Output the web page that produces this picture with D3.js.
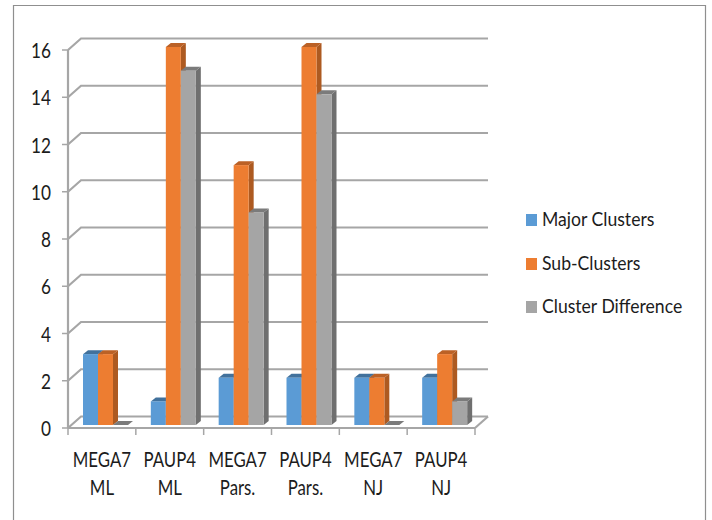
<!DOCTYPE html>
<html>
<head>
<meta charset="utf-8">
<script src="https://cdn.jsdelivr.net/npm/d3@7"></script>
<style>
html, body { margin: 0; padding: 0; background: #fff; }
svg { display: block; }
text { font-family: Lato, "Open Sans", sans-serif; fill: #1c1c1c; }
</style>
</head>
<body>
<svg id="chart" width="712" height="520"></svg>
<script>
const categories = [["MEGA7", "ML"], ["PAUP4", "ML"], ["MEGA7", "Pars."], ["PAUP4", "Pars."], ["MEGA7", "NJ"], ["PAUP4", "NJ"]];
const seriesNames = ["Major Clusters", "Sub-Clusters", "Cluster Difference"];
const majorClusters = [3, 1, 2, 2, 2, 2];
const subClusters = [3, 16, 11, 16, 2, 3];
const clusterDifference = [0, 15, 9, 14, 0, 1];
const yTicks = [0, 2, 4, 6, 8, 10, 12, 14, 16];

const seriesValues = [majorClusters, subClusters, clusterDifference];
const faceColors = [
  { front: "#5b9bd5", side: "#41719c", top: "#41719c" },
  { front: "#ed7d31", side: "#ad5a21", top: "#bb6126" },
  { front: "#a5a5a5", side: "#6f6f6f", top: "#7b7b7b" }
];

const svg = d3.select("#chart");
const x = d3.scaleBand().domain(d3.range(categories.length)).range([68, 475]);
const y = d3.scaleLinear().domain([0, 16]).range([428, 50]);

// Depth of the chart box and of each bar, in screen pixels
const wallDx = 13, wallDy = -11.5;
const barDx = 5, barDy = -4;
const barInset = 15, barWidth = 15, barFloorLift = 3;
const wallRight = x.range()[1] + wallDx;

const poly = pts => pts.map(p => p.join(",")).join(" ");

// Condensed text: Lato squeezed horizontally around its anchor point
const squeezed = (sel, px, py, sx) => sel.attr("transform", `translate(${px},${py}) scale(${sx},1)`);

// Outer frame of the chart area: open along the bottom edge
svg.append("polyline").attr("points", poly([[13.5, 520], [13.5, 5.5], [705.5, 5.5], [705.5, 520]]))
  .attr("fill", "none").attr("stroke", "#8f8f8f").attr("stroke-width", 1.2);

// Back wall gridlines with their diagonal returns to the value axis
const grid = svg.append("g").attr("fill", "none").attr("stroke", "#a6a6a6").attr("stroke-width", 2.2);
yTicks.forEach(t => {
  grid.append("polyline").attr("points", poly([
    [x.range()[0], y(t)], [x.range()[0] + wallDx, y(t) + wallDy], [wallRight, y(t) + wallDy]
  ]));
});

// Floor edge on the right and the two front axes
grid.append("polyline").attr("points", poly([[wallRight, y(0) + wallDy], [x.range()[1], y(0)]]));
grid.append("line").attr("x1", x.range()[0]).attr("x2", x.range()[1]).attr("y1", y(0)).attr("y2", y(0));
grid.append("line").attr("x1", x.range()[0]).attr("x2", x.range()[0]).attr("y1", y(0)).attr("y2", y(16));

// Tick marks
const tickG = svg.append("g").attr("stroke", "#a6a6a6").attr("stroke-width", 1.5);
yTicks.forEach(t => {
  tickG.append("line").attr("x1", x.range()[0] - 6).attr("x2", x.range()[0]).attr("y1", y(t)).attr("y2", y(t));
});
d3.range(categories.length + 1).forEach(i => {
  const px = x.range()[0] + i * x.bandwidth();
  tickG.append("line").attr("x1", px).attr("x2", px).attr("y1", y(0)).attr("y2", y(0) + 7);
});

// Bars as three visible faces: side, top, front
const bars = svg.append("g");
categories.forEach((c, i) => {
  seriesValues.forEach((vals, s) => {
    const v = vals[i];
    const x0 = x(i) + barInset + s * barWidth;
    const x1 = x0 + barWidth;
    const yb = y(0) - barFloorLift;
    const yt = y(v) - barFloorLift;
    const col = faceColors[s];
    bars.append("polygon").attr("fill", col.side).attr("points", poly([
      [x1, yt], [x1 + barDx, yt + barDy], [x1 + barDx, yb + barDy], [x1, yb]
    ]));
    bars.append("polygon").attr("fill", col.top).attr("points", poly([
      [x0, yt], [x0 + barDx, yt + barDy], [x1 + barDx, yt + barDy], [x1, yt]
    ]));
    if (v > 0) {
      bars.append("rect").attr("x", x0).attr("y", yt).attr("width", barWidth).attr("height", yb - yt).attr("fill", col.front);
    }
  });
});

// Value axis labels
const valueLabels = svg.append("g").attr("font-size", 21).attr("text-anchor", "end");
yTicks.forEach(t => {
  squeezed(valueLabels.append("text").text(t), 51, y(t) + 8, 0.82);
});

// Category labels on two lines
const catLabels = svg.append("g").attr("font-size", 21).attr("text-anchor", "middle");
categories.forEach((c, i) => {
  c.forEach((line, k) => {
    squeezed(catLabels.append("text").text(line), x(i) + x.bandwidth() / 2, 467 + k * 28, 0.8);
  });
});

// Legend
const legendBase = [226, 270, 313];
const legend = svg.append("g");
seriesNames.forEach((name, s) => {
  legend.append("rect").attr("x", 526).attr("y", legendBase[s] - 12).attr("width", 11).attr("height", 12).attr("fill", faceColors[s].front);
  squeezed(legend.append("text").attr("font-size", 20).text(name), 542, legendBase[s], 0.88);
});
</script>
</body>
</html>
